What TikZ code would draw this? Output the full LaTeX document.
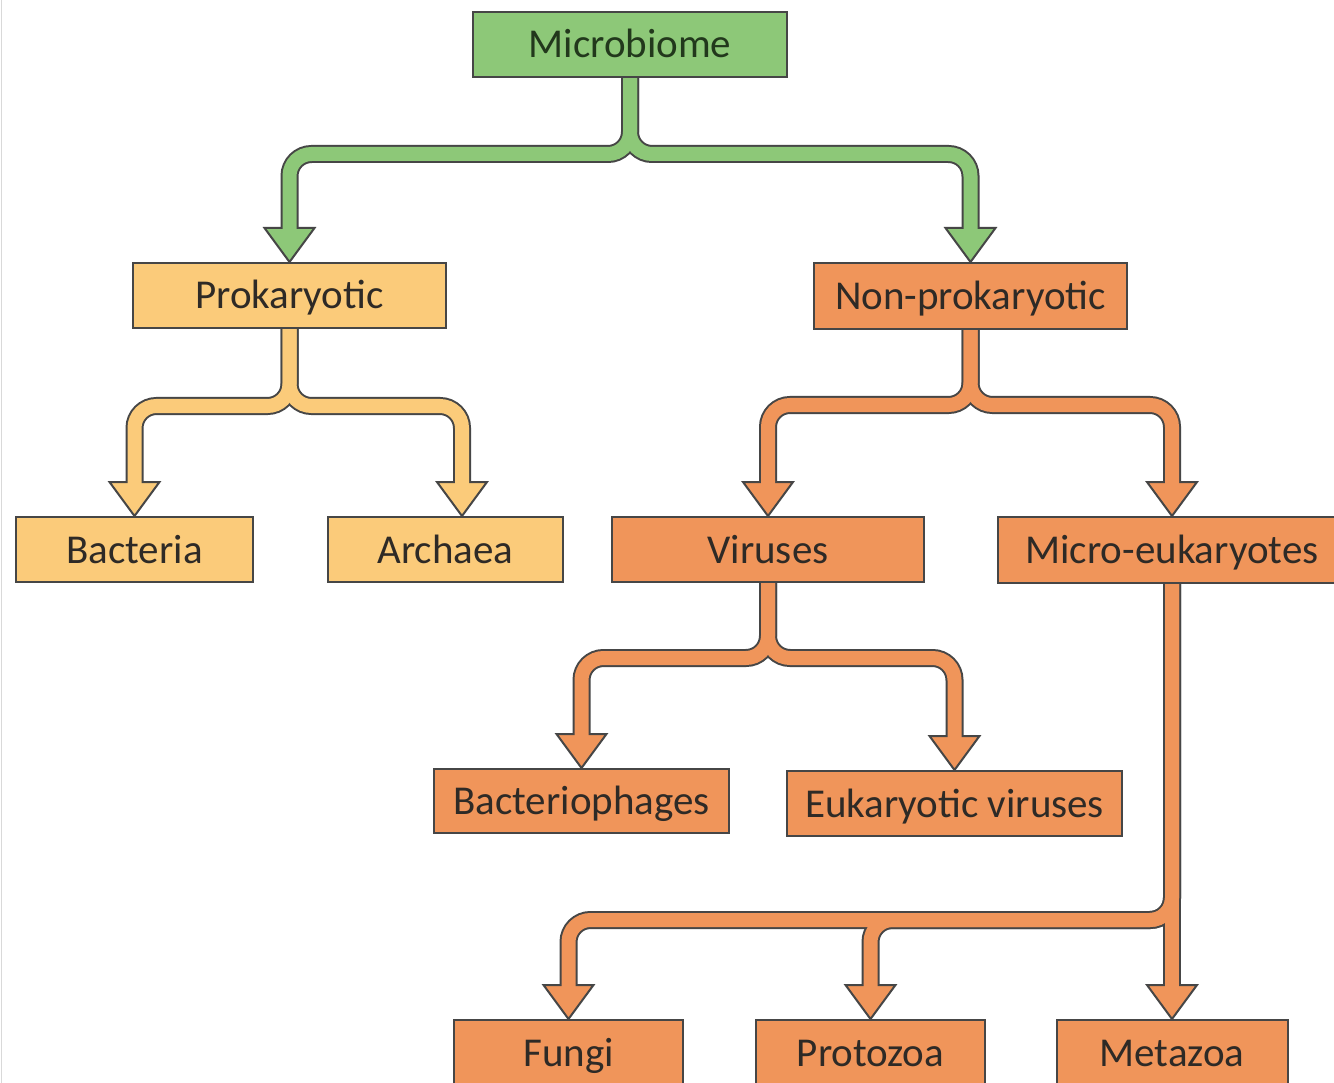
\documentclass[tikz,border=0pt]{standalone}
\usepackage{fontspec}
\setmainfont{Carlito}
\usetikzlibrary{calc}
\pgfdeclarelayer{bg}
\pgfsetlayers{bg,main}
\definecolor{gfill}{HTML}{8DC878}
\definecolor{yfill}{HTML}{FBCB7A}
\definecolor{ofill}{HTML}{F0955A}
\definecolor{dk}{HTML}{464646}
\definecolor{gtext}{HTML}{22381C}
\definecolor{otext}{HTML}{2E2A26}
\newcommand\fatoutline[2]{\draw[line width=18pt,draw=dk,rounded corners=22pt] #1 -- ($(#2)+(0,-34)$);}
\newcommand\fatfill[3]{\draw[line width=14pt,draw=#1,rounded corners=22pt] #2 -- ($(#3)+(0,-31)$);}
\newcommand\fathead[2]{\filldraw[fill=#1,draw=dk,line width=2pt,line join=miter] (#2) -- ++(-25,-34) -- ++(50,0) -- cycle;}
\begin{document}
\begin{tikzpicture}[x=1pt,y=-1pt,
  box/.style={rectangle,draw=dk,line width=2pt,inner sep=0pt,minimum height=65pt,
    text height=30pt,text depth=3pt,font=\fontsize{41pt}{48pt}\selectfont,text=otext},
  gbox/.style={box,fill=gfill,text=gtext},
  ybox/.style={box,fill=yfill},
  obox/.style={box,fill=ofill}]
\useasboundingbox (0,0) rectangle (1334,1083);
\clip (0,0) rectangle (1334,1083);
% boxes
\node[gbox,minimum width=314pt] (mb) at (630,44.5) {Microbiome};
\node[ybox,minimum width=313pt] (pro) at (289.5,295.5) {Prokaryotic};
\node[obox,minimum width=313pt,minimum height=66pt] (npro) at (970.5,296) {Non-prokaryotic};
\node[ybox,minimum width=237pt] (bac) at (134.5,549.5) {Bacteria};
\node[ybox,minimum width=235pt] (arc) at (445.5,549.5) {Archaea};
\node[obox,minimum width=312pt] (vir) at (768,549.5) {Viruses};
\node[obox,minimum width=348pt,minimum height=66pt] (meu) at (1172,550) {Micro-eukaryotes};
\node[obox,minimum width=295pt,minimum height=64pt] (bph) at (581.5,801) {Bacteriophages};
\node[obox,minimum width=335pt] (ev) at (954.5,803.5) {Eukaryotic viruses};
\node[obox,minimum width=229pt] (fun) at (568.5,1052.5) {Fungi};
\node[obox,minimum width=229pt] (ptz) at (870.5,1052.5) {Protozoa};
\node[obox,minimum width=231pt] (met) at (1172,1052.5) {Metazoa};
% band levels
\coordinate (b1) at (0,154);
\coordinate (b2) at (0,406);
\coordinate (b3) at (0,405);
\coordinate (b4) at (0,658);
\coordinate (b5) at (0,920);
\coordinate (tarc) at ($(arc.north)+(16.5,0)$);
\begin{pgfonlayer}{bg}
\fill[white] (0,0) rectangle (1334,1083);
\draw[gray!30,line width=1.5pt] (1.5,0) -- (1.5,1083);
% green
\fatoutline{(mb.south) -- (mb.south |- b1) -- (pro.north |- b1)}{pro.north}
\fatoutline{(mb.south) -- (mb.south |- b1) -- (npro.north |- b1)}{npro.north}
\fathead{gfill}{pro.north}
\fathead{gfill}{npro.north}
\fatfill{gfill}{(mb.south) -- (mb.south |- b1) -- (pro.north |- b1)}{pro.north}
\fatfill{gfill}{(mb.south) -- (mb.south |- b1) -- (npro.north |- b1)}{npro.north}
% yellow
\fatoutline{(pro.south) -- (pro.south |- b2) -- (bac.north |- b2)}{bac.north}
\fatoutline{(pro.south) -- (pro.south |- b2) -- (tarc |- b2)}{tarc}
\fathead{yfill}{bac.north}
\fathead{yfill}{tarc}
\fatfill{yfill}{(pro.south) -- (pro.south |- b2) -- (bac.north |- b2)}{bac.north}
\fatfill{yfill}{(pro.south) -- (pro.south |- b2) -- (tarc |- b2)}{tarc}
% orange
\fatoutline{(npro.south) -- (npro.south |- b3) -- (vir.north |- b3)}{vir.north}
\fatoutline{(npro.south) -- (npro.south |- b3) -- (meu.north |- b3)}{meu.north}
\fatoutline{(vir.south) -- (vir.south |- b4) -- (bph.north |- b4)}{bph.north}
\fatoutline{(vir.south) -- (vir.south |- b4) -- (ev.north |- b4)}{ev.north}
\fatoutline{(meu.south) -- (meu.south |- b5) -- (fun.north |- b5)}{fun.north}
\fatoutline{(meu.south) -- (meu.south |- b5) -- (ptz.north |- b5)}{ptz.north}
\fatoutline{(meu.south)}{met.north}
\fathead{ofill}{vir.north}
\fathead{ofill}{meu.north}
\fathead{ofill}{bph.north}
\fathead{ofill}{ev.north}
\fathead{ofill}{fun.north}
\fathead{ofill}{ptz.north}
\fathead{ofill}{met.north}
\fatfill{ofill}{(npro.south) -- (npro.south |- b3) -- (vir.north |- b3)}{vir.north}
\fatfill{ofill}{(npro.south) -- (npro.south |- b3) -- (meu.north |- b3)}{meu.north}
\fatfill{ofill}{(vir.south) -- (vir.south |- b4) -- (bph.north |- b4)}{bph.north}
\fatfill{ofill}{(vir.south) -- (vir.south |- b4) -- (ev.north |- b4)}{ev.north}
\fatfill{ofill}{(meu.south) -- (meu.south |- b5) -- (fun.north |- b5)}{fun.north}
\fatfill{ofill}{(meu.south) -- (meu.south |- b5) -- (ptz.north |- b5)}{ptz.north}
\fatfill{ofill}{(meu.south)}{met.north}
\end{pgfonlayer}
\end{tikzpicture}
\end{document}
